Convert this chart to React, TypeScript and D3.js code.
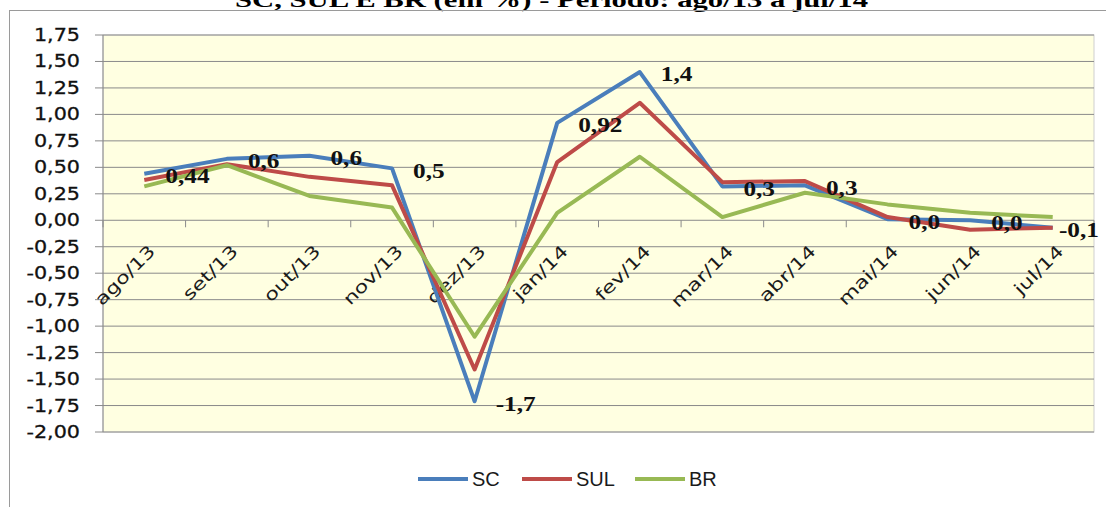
import React from "react";
import * as d3 from "d3";

const categories = ["ago/13", "set/13", "out/13", "nov/13", "dez/13", "jan/14", "fev/14", "mar/14", "abr/14", "mai/14", "jun/14", "jul/14"];
const scValues = [0.44, 0.58, 0.61, 0.49, -1.71, 0.92, 1.4, 0.32, 0.33, 0.01, 0.0, -0.07];
const sulValues = [0.38, 0.53, 0.41, 0.33, -1.41, 0.55, 1.11, 0.36, 0.37, 0.03, -0.09, -0.07];
const brValues = [0.32, 0.52, 0.23, 0.12, -1.1, 0.07, 0.6, 0.03, 0.26, 0.15, 0.07, 0.03];
const scLabels = ["0,44", "0,6", "0,6", "0,5", "-1,7", "0,92", "1,4", "0,3", "0,3", "0,0", "0,0", "-0,1"];
const yTicks = [1.75, 1.5, 1.25, 1.0, 0.75, 0.5, 0.25, 0.0, -0.25, -0.5, -0.75, -1.0, -1.25, -1.5, -1.75, -2.0];
const seriesNames = ["SC", "SUL", "BR"];
const titleText = "SC, SUL E BR (em %) - Período: ago/13 a jul/14";

const colors = ["#4A7EBB", "#BE4B48", "#98B954"];

function labelWidth(s: string) {
  let w = 0;
  for (const ch of s) w += ch === "," ? 0.25 : ch === "-" ? 0.333 : 0.5;
  return w * 22 * 1.15;
}

export default function App() {
  const W = 1106, H = 507;
  const left = 103, right = 1094, top = 35, bottom = 432;
  const x = d3.scaleBand<string>().domain(categories).range([left, right]);
  const y = d3.scaleLinear().domain([-2, 1.75]).range([bottom, top]);
  const cx = (c: string) => (x(c) as number) + x.bandwidth() / 2;
  const line = d3.line<number>().x((_, i) => cx(categories[i])).y((v) => y(v));
  const series = [scValues, sulValues, brValues];
  const fmt = (v: number) => v.toFixed(2).replace(".", ",");
  const legendX = [418, 522, 635];
  const y0 = y(0);

  return (
    <svg width={W} height={H} style={{ position: "absolute", left: 0, top: 0, background: "#fff" }}>
      <text x={235} y={7} fontFamily="Liberation Serif" fontWeight="bold" fontSize={22} textLength={633} lengthAdjust="spacingAndGlyphs" fill="#000">{titleText}</text>
      <rect x={9.5} y={10.5} width={1110} height={520} fill="none" stroke="#9a9a9a" />
      <rect x={left} y={top} width={right - left} height={bottom - top} fill="#FFFFE1" stroke="#cfcfcf" />
      {yTicks.map((t) => (
        <line key={"g" + t} x1={95} x2={right} y1={y(t)} y2={y(t)} stroke="#8a8a8a" strokeWidth={1} />
      ))}
      <line x1={left} x2={left} y1={top} y2={bottom} stroke="#8a8a8a" />
      {d3.range(categories.length + 1).map((i) => {
        const xx = left + i * x.bandwidth();
        return <line key={"t" + i} x1={xx} x2={xx} y1={y0} y2={y0 + 7} stroke="#8a8a8a" />;
      })}
      {yTicks.map((t) => (
        <text key={"yl" + t} transform={`translate(80,${y(t)}) scale(1.15,1)`} textAnchor="end" dominantBaseline="central" fontFamily="DejaVu Sans" fontSize={18} fill="#111" stroke="#111" strokeWidth={0.3}>{fmt(t)}</text>
      ))}
      {categories.map((c) => (
        <text key={"xl" + c} transform={`translate(${cx(c) + 12},${y0 + 32}) rotate(-45) scale(1.3,1)`} textAnchor="end" fontFamily="DejaVu Sans" fontSize={17} fill="#1a1a1a">{c}</text>
      ))}
      {series.map((s, i) => (
        <path key={"s" + i} d={line(s) as string} fill="none" stroke={colors[i]} strokeWidth={4} strokeLinejoin="round" />
      ))}
      {scValues.map((v, i) => {
        const lx = Math.min(cx(categories[i]) + 21, 1099 - labelWidth(scLabels[i]));
        return (
          <text key={"dl" + i} transform={`translate(${lx},${y(v) + 2}) scale(1.15,1)`} dominantBaseline="central" fontFamily="Liberation Serif" fontWeight="bold" fontSize={22} fill="#111">{scLabels[i]}</text>
        );
      })}
      {seriesNames.map((n, i) => (
        <g key={"lg" + n}>
          <line x1={legendX[i]} x2={legendX[i] + 50} y1={479} y2={479} stroke={colors[i]} strokeWidth={4} />
          <text x={legendX[i] + 54} y={479} dominantBaseline="central" fontFamily="Liberation Sans" fontSize={20} fill="#1a1a1a">{n}</text>
        </g>
      ))}
    </svg>
  );
}
